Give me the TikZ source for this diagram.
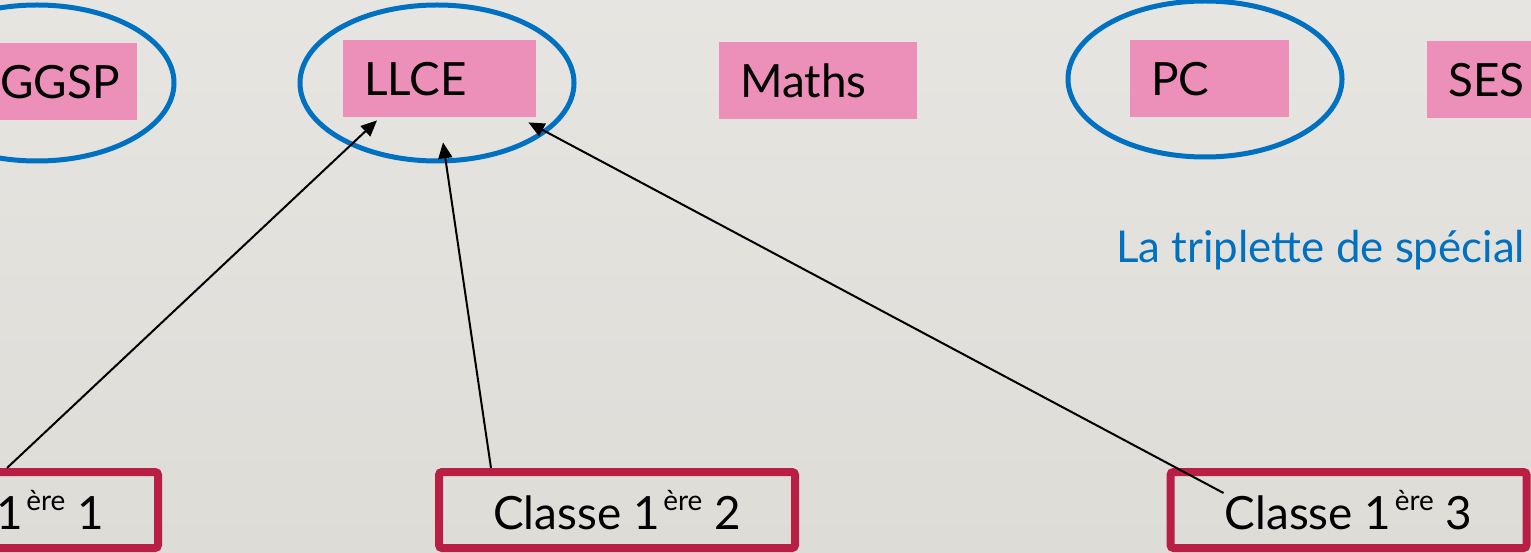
\documentclass[tikz,border=0pt]{standalone}
\usepackage{fontspec}
\setmainfont{Lato}
\usetikzlibrary{shapes.geometric,arrows.meta,calc}
\definecolor{bgtop}{HTML}{E7E5E1}
\definecolor{bgbot}{HTML}{DEDCD7}
\definecolor{pinkfill}{HTML}{EC8FB9}
\definecolor{ellblue}{HTML}{0070C0}
\definecolor{boxred}{HTML}{B91F45}
\newcommand\myere{\hspace{0.08em}\raisebox{0.42em}{\fontsize{28}{30}\selectfont ère}}
\tikzset{
  txt/.style={font=\fontsize{46}{52}\selectfont},
  pinkbox/.style={txt, fill=pinkfill, draw=none, rectangle, anchor=north west,
    minimum height=77bp, inner xsep=21bp, inner ysep=0pt, align=left, text=black},
  choice/.style={ellipse, draw=ellblue, line width=5bp, minimum width=274bp,
    minimum height=156bp, inner sep=0pt},
  classbox/.style={txt, rectangle, draw=boxred, line width=8bp, rounded corners=3bp,
    minimum width=356bp, minimum height=76bp, inner sep=0pt},
  link/.style={draw=black, line width=2bp, -{Triangle[length=16bp,width=14bp]}}
}
\begin{document}
\begin{tikzpicture}[x=1bp,y=-1bp]
\useasboundingbox (0,0) rectangle (1531,553);
\shade[top color=bgtop, bottom color=bgbot] (0,0) rectangle (1531,553);
% pink speciality boxes
\node[pinkbox, text width=116bp] (ggsp) at (-21,43) {GGSP};
\node[pinkbox, text width=151bp] (llce) at (343,40) {LLCE};
\node[pinkbox, text width=156bp] (maths) at (719,42) {Maths};
\node[pinkbox, text width=117bp] (pc) at (1130,40) {PC};
\node[pinkbox, text width=120bp] (ses) at (1427,41) {SES};
% blue ellipses
\node[choice] (e1) at (37,83) {};
\node[choice] (e2) at (437,83) {};
\node[choice] (e3) at (1205,79) {};
% blue caption
\node[font=\fontsize{44}{50}\selectfont, text=ellblue, anchor=base west, inner sep=0pt] (trip) at (1116,263) {La triplette de spécial};
% class boxes
\node[classbox] (cls1) at (-20,510) {Classe 1\myere{} 1};
\node[classbox] (cls2) at (617,510) {Classe 1\myere{} 2};
\node[classbox] (cls3) at (1348.5,510) {Classe 1\myere{} 3};
% arrows
\coordinate (s1) at ($(cls1.north east)+(-155,0)$);
\coordinate (t1) at ($(llce.south west)+(34,3)$);
\coordinate (s2) at ($(cls2.north west)+(56,0)$);
\coordinate (t2) at ($(llce.south west)+(100,25)$);
\coordinate (s3) at ($(cls3.west)+(57,-17)$);
\coordinate (t3) at ($(llce.south east)+(-8,5)$);
\draw[link] (s1) -- (t1);
\draw[link] (s2) -- (t2);
\draw[link] (s3) -- (t3);
\end{tikzpicture}
\end{document}
